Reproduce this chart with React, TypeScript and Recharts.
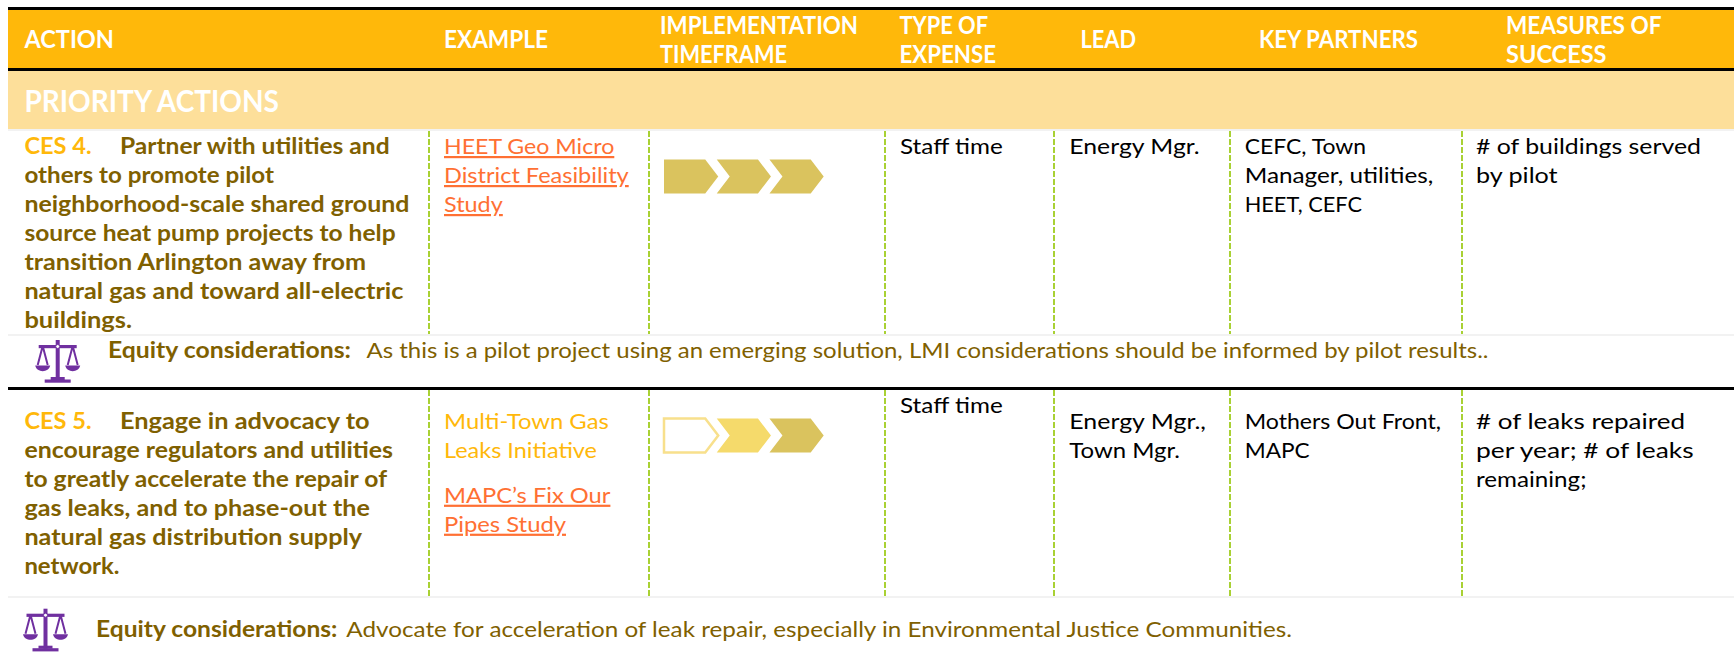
import React from "react";
import { BarChart, Bar, ComposedChart, ReferenceArea, ReferenceLine, XAxis, YAxis } from "recharts";

const W = 1734;
const H = 657;
const FONT = "Lato, 'Open Sans', sans-serif";

const ORANGE = "#ffb80a";
const BROWN = "#7f6000";
const LINK = "#ff7033";
const GREEN = "#a9d134";
const PURPLE = "#7030a0";

// timeframe chevrons
const phaseRows = ["CES 4", "CES 5"];
const phaseOne = [1, 1];
const phaseTwo = [1, 1];
const phaseThree = [1, 1];
const phaseOneTone = ["dark", "hollow"];
const phaseTwoTone = ["dark", "light"];
const phaseThreeTone = ["dark", "dark"];

const headerLabels = [
  "ACTION", "EXAMPLE", "IMPLEMENTATION", "TIMEFRAME", "TYPE OF", "EXPENSE",
  "LEAD", "KEY PARTNERS", "MEASURES OF", "SUCCESS",
];
const sectionLabel = "PRIORITY ACTIONS";
const actionCodes = ["CES 4.", "CES 5."];
const actionOne = [
  "Partner with utilities and", "others to promote pilot", "neighborhood-scale shared ground",
  "source heat pump projects to help", "transition Arlington away from",
  "natural gas and toward all-electric", "buildings.",
];
const actionTwo = [
  "Engage in advocacy to", "encourage regulators and utilities", "to greatly accelerate the repair of",
  "gas leaks, and to phase-out the", "natural gas distribution supply", "network.",
];
const exampleOne = ["HEET Geo Micro", "District Feasibility", "Study"];
const exampleTwoPlain = ["Multi-Town Gas", "Leaks Initiative"];
const exampleTwoLink = ["MAPC\u2019s Fix Our", "Pipes Study"];
const expense = "Staff time";
const leadOne = ["Energy Mgr."];
const leadTwo = ["Energy Mgr.,", "Town Mgr."];
const partnersOne = ["CEFC, Town", "Manager, utilities,", "HEET, CEFC"];
const partnersTwo = ["Mothers Out Front,", "MAPC"];
const measuresOne = ["# of buildings served", "by pilot"];
const measuresTwo = ["# of leaks repaired", "per year; # of leaks", "remaining;"];
const equityLabel = "Equity considerations:";
const equityOne = "As this is a pilot project using an emerging solution, LMI considerations should be informed by pilot results..";
const equityTwo = "Advocate for acceleration of leak repair, especially in Environmental Justice Communities.";

const columnLines = [429, 649, 885, 1054, 1230, 1462];

const rows = phaseRows.map((row, i) => ({
  row,
  one: phaseOne[i],
  two: phaseTwo[i],
  three: phaseThree[i],
}));

const toneFill: Record<string, string> = { dark: "#dac35e", light: "#f5da6b", hollow: "#ffffff" };

function Chevron(props: any) {
  const { x, y, width, height, index, tones, first } = props;
  const tone = tones[index];
  const w = width + 1.5;
  const tip = 13;
  const notch = first ? 0 : 13;
  const pts = [
    [x, y], [x + w - tip, y], [x + w, y + height / 2], [x + w - tip, y + height],
    [x, y + height], [x + notch, y + height / 2],
  ];
  if (first) pts.pop();
  return (
    <polygon
      points={pts.map((p) => p.join(",")).join(" ")}
      fill={toneFill[tone]}
      stroke={tone === "hollow" ? "#f8e08c" : "none"}
      strokeWidth={tone === "hollow" ? 2.5 : 0}
    />
  );
}

function Line({ x, end, y, size = 22, weight = 400, fill = "#000", link = false, children }: any) {
  return (
    <text
      x={x}
      y={y}
      textLength={end - x}
      lengthAdjust="spacingAndGlyphs"
      fontFamily={FONT}
      fontSize={size}
      fontWeight={weight}
      fill={fill}
      textDecoration={link ? "underline" : undefined}
    >
      {children}
    </text>
  );
}

function Scales({ x, y }: { x: number; y: number }) {
  const pan = (c: number) => (
    <g>
      <path d={`M${c} 6 L${c - 5} 25 M${c} 6 L${c + 5} 25`} stroke={PURPLE} strokeWidth={2} fill="none" />
      <path d={`M${c - 7.5} 25.5 H${c + 7.5} C${c + 6} 33 ${c - 6} 33 ${c - 7.5} 25.5 Z`} fill={PURPLE} />
    </g>
  );
  return (
    <g transform={`translate(${x},${y})`}>
      <rect x={-2} y={0} width={4} height={40} fill={PURPLE} />
      <rect x={-19} y={5} width={38} height={3.2} fill={PURPLE} />
      <circle cx={0} cy={6.5} r={2} fill="#fff" stroke={PURPLE} strokeWidth={1} />
      {pan(-15)}
      {pan(15)}
      <rect x={-7} y={37} width={14} height={3} fill={PURPLE} />
      <rect x={-13} y={39.5} width={26} height={3.2} fill={PURPLE} />
    </g>
  );
}

export default function App() {
  return (
    <div style={{ position: "absolute", left: 0, top: 0, width: W, height: H, background: "#fff", overflow: "hidden" }}>
      <div style={{ position: "absolute", left: 0, top: 0 }}>
        <ComposedChart width={W} height={H} margin={{ top: 0, right: 0, bottom: 0, left: 0 }} data={rows}>
          <XAxis type="number" dataKey="one" domain={[0, W]} hide allowDataOverflow />
          <YAxis type="number" domain={[0, H]} reversed hide width={0} allowDataOverflow />
          <ReferenceArea x1={8} x2={W} y1={7} y2={10} fill="#000" fillOpacity={1} stroke="none" />
          <ReferenceArea x1={8} x2={W} y1={10} y2={68} fill={ORANGE} fillOpacity={1} stroke="none" />
          <ReferenceArea x1={8} x2={W} y1={68} y2={71} fill="#000" fillOpacity={1} stroke="none" />
          <ReferenceArea x1={8} x2={W} y1={71} y2={129} fill="#fddf9a" fillOpacity={1} stroke="none" />
          <ReferenceArea x1={8} x2={W} y1={129} y2={131} fill="#f2f2f2" fillOpacity={1} stroke="none" />
          <ReferenceArea x1={8} x2={W} y1={334} y2={336} fill="#f2f2f2" fillOpacity={1} stroke="none" />
          <ReferenceArea x1={8} x2={W} y1={387} y2={390} fill="#000" fillOpacity={1} stroke="none" />
          <ReferenceArea x1={8} x2={W} y1={596} y2={598} fill="#f2f2f2" fillOpacity={1} stroke="none" />
          {columnLines.map((x) => (
            <ReferenceLine key={`a${x}`} segment={[{ x, y: 131 }, { x, y: 334 }]} stroke={GREEN} strokeWidth={2} strokeDasharray="6 2" />
          ))}
          {columnLines.map((x) => (
            <ReferenceLine key={`b${x}`} segment={[{ x, y: 390 }, { x, y: 596 }]} stroke={GREEN} strokeWidth={2} strokeDasharray="6 2" />
          ))}

          {/* first action */}
          <Line x={24.4} end={91.6} y={154} weight={700} fill={ORANGE}>{actionCodes[0]}</Line>
          <Line x={120} end={389.6} y={154} weight={700} fill={BROWN}>{actionOne[0]}</Line>
          <Line x={24.4} end={274} y={183} weight={700} fill={BROWN}>{actionOne[1]}</Line>
          <Line x={24.4} end={409.5} y={212} weight={700} fill={BROWN}>{actionOne[2]}</Line>
          <Line x={24.4} end={395.7} y={241} weight={700} fill={BROWN}>{actionOne[3]}</Line>
          <Line x={24.4} end={366} y={270} weight={700} fill={BROWN}>{actionOne[4]}</Line>
          <Line x={24.4} end={403.4} y={299} weight={700} fill={BROWN}>{actionOne[5]}</Line>
          <Line x={24.4} end={132} y={328} weight={700} fill={BROWN}>{actionOne[6]}</Line>
          <Line x={444} end={614.3} y={154} fill={LINK} link>{exampleOne[0]}</Line>
          <Line x={444} end={628.7} y={183} fill={LINK} link>{exampleOne[1]}</Line>
          <Line x={444} end={502.8} y={212} fill={LINK} link>{exampleOne[2]}</Line>
          <Line x={900} end={1002.7} y={154}>{expense}</Line>
          <Line x={1069.3} end={1199.7} y={154}>{leadOne[0]}</Line>
          <Line x={1244.7} end={1366} y={154}>{partnersOne[0]}</Line>
          <Line x={1244.7} end={1433.4} y={183}>{partnersOne[1]}</Line>
          <Line x={1244.7} end={1362} y={212}>{partnersOne[2]}</Line>
          <Line x={1476} end={1701} y={154}>{measuresOne[0]}</Line>
          <Line x={1476} end={1557.6} y={183}>{measuresOne[1]}</Line>
          <Scales x={57.7} y={340} />
          <Line x={108} end={351} y={358} weight={700} fill={BROWN}>{equityLabel}</Line>
          <Line x={366.5} end={1488.5} y={358} fill={BROWN}>{equityOne}</Line>

          {/* second action */}
          <Line x={24.4} end={91.6} y={429} weight={700} fill={ORANGE}>{actionCodes[1]}</Line>
          <Line x={120} end={369.6} y={429} weight={700} fill={BROWN}>{actionTwo[0]}</Line>
          <Line x={24.4} end={393} y={458} weight={700} fill={BROWN}>{actionTwo[1]}</Line>
          <Line x={24.4} end={387} y={487} weight={700} fill={BROWN}>{actionTwo[2]}</Line>
          <Line x={24.4} end={370} y={516} weight={700} fill={BROWN}>{actionTwo[3]}</Line>
          <Line x={24.4} end={362} y={545} weight={700} fill={BROWN}>{actionTwo[4]}</Line>
          <Line x={24.4} end={119.5} y={574} weight={700} fill={BROWN}>{actionTwo[5]}</Line>
          <Line x={444} end={608.8} y={429} fill={ORANGE}>{exampleTwoPlain[0]}</Line>
          <Line x={444} end={597} y={458} fill={ORANGE}>{exampleTwoPlain[1]}</Line>
          <Line x={444} end={610.4} y={502.7} fill={LINK} link>{exampleTwoLink[0]}</Line>
          <Line x={444} end={566} y={531.7} fill={LINK} link>{exampleTwoLink[1]}</Line>
          <Line x={900} end={1002.7} y={412.7}>{expense}</Line>
          <Line x={1069.3} end={1206} y={429}>{leadTwo[0]}</Line>
          <Line x={1069.3} end={1180} y={458}>{leadTwo[1]}</Line>
          <Line x={1244.7} end={1441} y={429}>{partnersTwo[0]}</Line>
          <Line x={1244.7} end={1309.6} y={458}>{partnersTwo[1]}</Line>
          <Line x={1476} end={1685} y={429}>{measuresTwo[0]}</Line>
          <Line x={1476} end={1693.6} y={458}>{measuresTwo[1]}</Line>
          <Line x={1476} end={1586.5} y={487}>{measuresTwo[2]}</Line>
          <Scales x={45.5} y={608.7} />
          <Line x={96} end={337.4} y={636.7} weight={700} fill={BROWN}>{equityLabel}</Line>
          <Line x={346.3} end={1292} y={636.7} fill={BROWN}>{equityTwo}</Line>
        </ComposedChart>
      </div>
      {/* second layer: reference areas paint over plain children, so the header text sits up here */}
      <div style={{ position: "absolute", left: 0, top: 0 }}>
        <BarChart
          width={W}
          height={H}
          layout="vertical"
          data={rows}
          barSize={34}
          margin={{ top: 46.5, right: W - 822.2, bottom: 92.5, left: 664 }}
        >
          <XAxis type="number" domain={[0, 3]} hide />
          <YAxis type="category" dataKey="row" hide width={0} />
          <Bar dataKey="one" stackId="t" isAnimationActive={false} shape={(p: any) => <Chevron {...p} tones={phaseOneTone} first />} />
          <Bar dataKey="two" stackId="t" isAnimationActive={false} shape={(p: any) => <Chevron {...p} tones={phaseTwoTone} />} />
          <Bar dataKey="three" stackId="t" isAnimationActive={false} shape={(p: any) => <Chevron {...p} tones={phaseThreeTone} />} />

          <Line x={24.4} end={114} y={48} size={24} weight={700} fill="#fff">{headerLabels[0]}</Line>
          <Line x={444} end={548} y={48} size={24} weight={700} fill="#fff">{headerLabels[1]}</Line>
          <Line x={660} end={858} y={33.5} size={24} weight={700} fill="#fff">{headerLabels[2]}</Line>
          <Line x={660} end={787} y={63} size={24} weight={700} fill="#fff">{headerLabels[3]}</Line>
          <Line x={899.5} end={988} y={33.5} size={24} weight={700} fill="#fff">{headerLabels[4]}</Line>
          <Line x={899.5} end={996} y={63} size={24} weight={700} fill="#fff">{headerLabels[5]}</Line>
          <Line x={1080.4} end={1136} y={48} size={24} weight={700} fill="#fff">{headerLabels[6]}</Line>
          <Line x={1259} end={1418} y={48} size={24} weight={700} fill="#fff">{headerLabels[7]}</Line>
          <Line x={1506} end={1661.5} y={33.5} size={24} weight={700} fill="#fff">{headerLabels[8]}</Line>
          <Line x={1506} end={1606.5} y={63} size={24} weight={700} fill="#fff">{headerLabels[9]}</Line>
          <Line x={24.4} end={279} y={112} size={30} weight={700} fill="#fff">{sectionLabel}</Line>
        </BarChart>
      </div>
    </div>
  );
}
